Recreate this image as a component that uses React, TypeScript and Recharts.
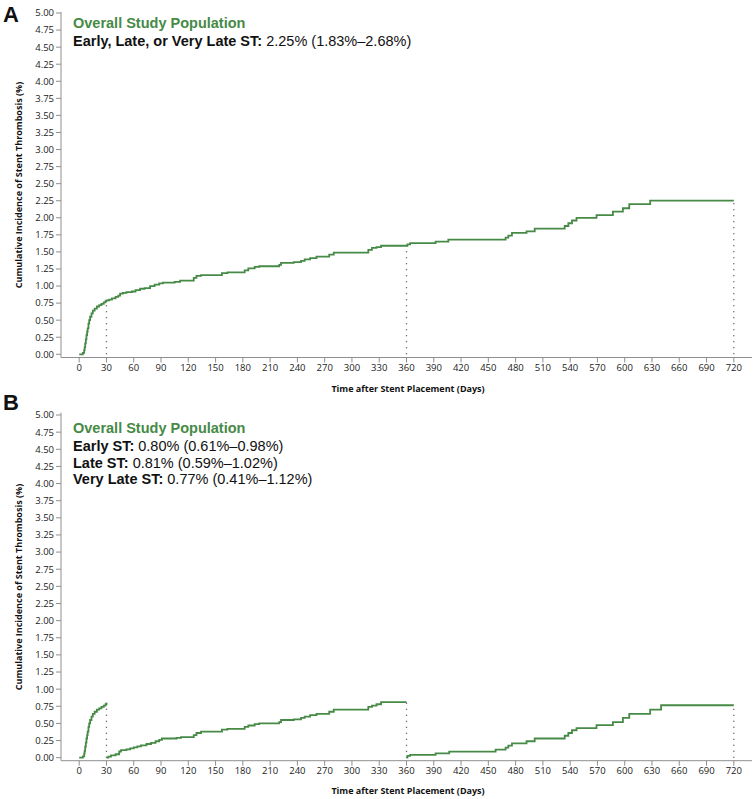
import { LineChart, Line, XAxis, YAxis, ReferenceLine } from "recharts";

// Panel A: overall cumulative incidence (days, %)
const overallDays = [
  0, 4, 5.5, 6, 6.6, 7.3, 8, 8.7, 9.3, 10.2, 11, 12, 13.5, 15, 17, 19.5, 22, 24.5, 27, 29,
  30, 33, 36, 40, 43, 45, 48, 52, 58, 62, 67, 72, 78, 83, 88, 92, 105, 111, 126, 129, 134,
  157, 163, 182, 186, 193, 198, 220, 222, 236, 244, 248, 254, 261, 275, 280, 318, 322, 327,
  332, 361, 364, 392, 406, 469, 472, 476, 492, 501, 534, 538, 542, 547, 569, 587, 598, 605,
  628, 720,
];
const overallPct = [
  0, 0.02, 0.06, 0.1, 0.16, 0.22, 0.28, 0.33, 0.38, 0.45, 0.5, 0.55, 0.6, 0.64, 0.67, 0.7,
  0.72, 0.74, 0.76, 0.78, 0.79, 0.8, 0.82, 0.84, 0.86, 0.89, 0.9, 0.91, 0.92, 0.94, 0.96,
  0.97, 1.0, 1.02, 1.04, 1.05, 1.06, 1.08, 1.12, 1.15, 1.16, 1.19, 1.2, 1.23, 1.26, 1.28,
  1.29, 1.31, 1.34, 1.35, 1.37, 1.39, 1.41, 1.43, 1.46, 1.49, 1.53, 1.56, 1.57, 1.59, 1.61,
  1.63, 1.65, 1.68, 1.71, 1.74, 1.78, 1.8, 1.84, 1.88, 1.92, 1.96, 2.0, 2.04, 2.09, 2.14,
  2.2, 2.25, 2.25,
];

// Panel B: early (0-30), late (30-360), very late (360-720)
const earlyDays = [0, 4, 5.5, 6, 6.6, 7.3, 8, 8.7, 9.3, 10.2, 11, 12, 13.5, 15, 17, 19.5, 22, 24.5, 27, 29, 30];
const earlyPct = [0, 0.02, 0.06, 0.1, 0.16, 0.22, 0.28, 0.33, 0.38, 0.45, 0.5, 0.55, 0.6, 0.64, 0.67, 0.7, 0.72, 0.74, 0.76, 0.78, 0.8];

const lateDays = [
  30, 32, 35, 40, 44, 46, 52, 56, 60, 64, 68, 74, 79, 84, 88, 91, 107, 112, 126, 129, 134,
  157, 163, 182, 186, 193, 198, 220, 222, 236, 244, 248, 254, 261, 275, 280, 318, 322, 327,
  332, 360,
];
const latePct = [
  0, 0.015, 0.035, 0.05, 0.09, 0.11, 0.12, 0.135, 0.15, 0.165, 0.18, 0.2, 0.215, 0.24, 0.26,
  0.28, 0.29, 0.3, 0.33, 0.36, 0.38, 0.41, 0.42, 0.45, 0.47, 0.49, 0.5, 0.52, 0.55, 0.56,
  0.58, 0.6, 0.62, 0.64, 0.67, 0.7, 0.74, 0.76, 0.78, 0.81, 0.81,
];

const veryLateDays = [360, 361, 364, 392, 407, 458, 469, 472, 476, 492, 501, 534, 538, 542, 547, 569, 587, 598, 605, 628, 640, 720];
const veryLatePct = [0, 0.025, 0.04, 0.064, 0.088, 0.118, 0.147, 0.176, 0.21, 0.24, 0.28, 0.32, 0.36, 0.4, 0.43, 0.475, 0.52, 0.58, 0.64, 0.7, 0.765, 0.765];

const xTicks = Array.from({ length: 25 }, (_, i) => i * 30);
const yTicks = Array.from({ length: 21 }, (_, i) => i * 0.25);
const cutoffDays = [30, 360, 720];

const GREEN = "#468a46";
const AXIS = "#8f8f8f";
const TICK_FONT = { fontSize: 9.5, fill: "#222", fontFamily: "Open Sans" };

const toPoints = (days: number[], pct: number[]) => days.map((d, i) => ({ day: d, pct: pct[i] }));

const valueAt = (days: number[], pct: number[], day: number) => {
  let v = 0;
  days.forEach((d, i) => {
    if (d <= day) v = pct[i];
  });
  return v;
};

interface Series {
  days: number[];
  pct: number[];
}

function Panel({
  series,
  cutoffs,
  top,
  plotTop,
  plotBottom,
  yDomain,
}: {
  series: Series[];
  cutoffs: { day: number; value: number }[];
  top: number;
  plotTop: number;
  plotBottom: number;
  yDomain: [number, number];
}) {
  const height = 400;
  return (
    <div style={{ position: "absolute", left: 0, top }}>
      <LineChart width={756} height={height} margin={{ top: plotTop, right: 4, left: 0, bottom: 0 }}>
        <XAxis
          dataKey="day"
          type="number"
          domain={[-20, 740]}
          ticks={xTicks}
          interval={0}
          allowDuplicatedCategory={false}
          height={height - plotBottom}
          tickSize={5}
          tickMargin={2}
          tick={TICK_FONT}
          stroke={AXIS}
        />
        <XAxis xAxisId="top" orientation="top" type="number" domain={[-20, 740]} height={0} tick={false} tickLine={false} stroke={AXIS} />
        <YAxis
          type="number"
          domain={yDomain}
          ticks={yTicks}
          interval={0}
          width={61}
          tickSize={5}
          tickMargin={2}
          tick={TICK_FONT}
          tickFormatter={(v: number) => v.toFixed(2)}
          stroke={AXIS}
        />
        <YAxis yAxisId="right" orientation="right" type="number" domain={yDomain} width={0} tick={false} tickLine={false} stroke={AXIS} />
        {cutoffs.map((c) => (
          <ReferenceLine
            key={c.day}
            segment={[
              { x: c.day, y: 0 },
              { x: c.day, y: c.value },
            ]}
            stroke="#444"
            strokeWidth={1.3}
            strokeDasharray="1 5"
          />
        ))}
        {series.map((s, i) => (
          <Line
            key={i}
            data={toPoints(s.days, s.pct)}
            dataKey="pct"
            type="stepAfter"
            stroke={GREEN}
            strokeWidth={1.8}
            dot={false}
            activeDot={false}
            isAnimationActive={false}
          />
        ))}
      </LineChart>
    </div>
  );
}

const label = (text: string, left: number, top: number, extra: React.CSSProperties = {}) => (
  <div
    style={{
      position: "absolute",
      left,
      top,
      whiteSpace: "nowrap",
      fontFamily: "Liberation Sans, Arial, sans-serif",
      fontSize: 14.5,
      lineHeight: "17px",
      color: "#111",
      ...extra,
    }}
  >
    {text}
  </div>
);

const statLine = (name: string, value: string, left: number, top: number) => (
  <div
    style={{
      position: "absolute",
      left,
      top,
      whiteSpace: "nowrap",
      fontFamily: "Liberation Sans, Arial, sans-serif",
      fontSize: 14.5,
      lineHeight: "17px",
      color: "#111",
    }}
  >
    <b>{name}</b> {value}
  </div>
);

const axisTitle: React.CSSProperties = {
  position: "absolute",
  whiteSpace: "nowrap",
  fontFamily: "Open Sans",
  fontWeight: 700,
  fontSize: 9,
  color: "#111",
};

export default function App() {
  const seriesA = [{ days: overallDays, pct: overallPct }];
  const cutoffsA = cutoffDays.map((d) => ({ day: d, value: valueAt(overallDays, overallPct, d) }));
  const seriesB = [
    { days: earlyDays, pct: earlyPct },
    { days: lateDays, pct: latePct },
    { days: veryLateDays, pct: veryLatePct },
  ];
  const cutoffsB = [
    { day: 30, value: valueAt(earlyDays, earlyPct, 30) },
    { day: 360, value: valueAt(lateDays, latePct, 360) },
    { day: 720, value: valueAt(veryLateDays, veryLatePct, 720) },
  ];

  return (
    <div style={{ position: "absolute", left: 0, top: 0, width: 756, height: 799, background: "#fff", overflow: "hidden" }}>
      <Panel series={seriesA} cutoffs={cutoffsA} top={0} plotTop={12} plotBottom={357.5} yDomain={[-0.047, 5.015]} />
      <Panel series={seriesB} cutoffs={cutoffsB} top={400} plotTop={12.7} plotBottom={360.7} yDomain={[-0.044, 5.034]} />

      {label("A", 3, 3, { fontSize: 22, fontWeight: 700, lineHeight: "24px" })}
      {label("Overall Study Population", 73, 15, { color: GREEN, fontWeight: 700 })}
      {statLine("Early, Late, or Very Late ST:", "2.25% (1.83%–2.68%)", 73, 33)}

      {label("B", 3, 391, { fontSize: 22, fontWeight: 700, lineHeight: "24px" })}
      {label("Overall Study Population", 73, 420, { color: GREEN, fontWeight: 700 })}
      {statLine("Early ST:", "0.80% (0.61%–0.98%)", 73, 438)}
      {statLine("Late ST:", "0.81% (0.59%–1.02%)", 73, 455)}
      {statLine("Very Late ST:", "0.77% (0.41%–1.12%)", 73, 471)}

      <div style={{ ...axisTitle, left: 408, top: 382, transform: "translateX(-50%)" }}>Time after Stent Placement (Days)</div>
      <div style={{ ...axisTitle, left: 408, top: 784, transform: "translateX(-50%)" }}>Time after Stent Placement (Days)</div>
      <div style={{ ...axisTitle, left: 18, top: 185, transform: "translate(-50%, -50%) rotate(-90deg)" }}>
        Cumulative Incidence of Stent Thrombosis (%)
      </div>
      <div style={{ ...axisTitle, left: 18, top: 587, transform: "translate(-50%, -50%) rotate(-90deg)" }}>
        Cumulative Incidence of Stent Thrombosis (%)
      </div>
    </div>
  );
}
